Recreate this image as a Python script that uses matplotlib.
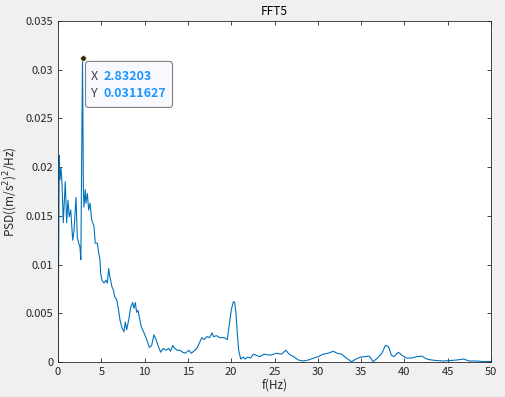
import numpy as np
import matplotlib
matplotlib.use("Agg")
import matplotlib.pyplot as plt
from matplotlib.patches import FancyBboxPatch
from matplotlib.transforms import IdentityTransform

plt.rcParams['font.family'] = ['Noto Sans CJK JP', 'DejaVu Sans']

# frequency (Hz) and PSD values
freq = [0.0, 0.15, 0.23, 0.35, 0.46, 0.61, 0.84, 1.0, 1.15, 1.3, 1.47, 1.7, 1.85,
        2.08, 2.23, 2.39, 2.54, 2.64, 2.83203, 2.93, 3.0, 3.15, 3.23, 3.39, 3.54,
        3.7, 3.89, 4.16, 4.3, 4.54, 4.7, 4.85, 4.93, 5.08, 5.31, 5.54, 5.7, 5.85,
        6.0, 6.24, 6.39, 6.55, 6.78, 7.0, 7.16, 7.39, 7.62, 7.77, 7.93, 8.16, 8.39,
        8.62, 8.78, 8.93, 9.08, 9.24, 9.39, 9.62, 9.93, 10.24, 10.55, 10.82, 11.08,
        11.32, 11.63, 11.86, 12.16, 12.47, 12.78, 13.0, 13.25, 13.47, 13.78, 14.09,
        14.4, 14.7, 15.1, 15.4, 15.8, 16.1, 16.4, 16.6, 16.85, 17.2, 17.5, 17.8,
        17.95, 18.3, 18.7, 19.17, 19.55, 19.8, 20.0, 20.25, 20.4, 20.55, 20.7,
        20.86, 21.1, 21.4, 21.6, 21.9, 22.25, 22.55, 23.3, 23.8, 24.5, 25.25,
        25.8, 26.3, 26.7, 27.2, 27.75, 28.3, 28.9, 29.5, 30.05, 30.6, 31.2, 31.8,
        32.2, 32.75, 33.3, 33.9, 34.4, 34.95, 35.45, 35.95, 36.4, 37.0, 37.4, 37.8,
        38.15, 38.5, 38.8, 39.3, 39.7, 40.25, 40.8, 41.4, 42.0, 42.6, 43.15, 43.7,
        44.5, 45.25, 46.0, 46.8, 47.5, 48.3, 49.0, 50.0]
psd = [0.0, 0.0212, 0.0187, 0.0199, 0.0184, 0.0143, 0.0185, 0.0143, 0.0166, 0.0149,
       0.0156, 0.0125, 0.0135, 0.0169, 0.0128, 0.0122, 0.0118, 0.0105, 0.0311627,
       0.018, 0.0159, 0.0177, 0.0163, 0.0173, 0.0156, 0.0163, 0.0146, 0.0139,
       0.0122, 0.0122, 0.0112, 0.0105, 0.0091, 0.0084, 0.0081, 0.0084, 0.0081,
       0.0096, 0.0087, 0.0077, 0.0074, 0.0067, 0.0064, 0.0053, 0.0043, 0.0035,
       0.0031, 0.0041, 0.0033, 0.0043, 0.0056, 0.0061, 0.0055, 0.0061, 0.0051,
       0.0053, 0.0046, 0.0036, 0.003, 0.0023, 0.0015, 0.0017, 0.0028, 0.0023,
       0.0015, 0.001, 0.0014, 0.0012, 0.0014, 0.0011, 0.0017, 0.0014, 0.0012,
       0.0012, 0.001, 0.0009, 0.0012, 0.0009, 0.0012, 0.0015, 0.0021, 0.0025,
       0.0023, 0.0026, 0.0025, 0.003, 0.0026, 0.0027, 0.0025, 0.0025, 0.0023,
       0.004, 0.0053, 0.0062, 0.0061, 0.005, 0.003, 0.0012, 0.0003, 0.0005,
       0.0003, 0.0005, 0.0004, 0.0008, 0.00055, 0.0008, 0.0007, 0.0009, 0.0008,
       0.0012, 0.0008, 0.00055, 0.0002, 0.0001, 0.0002, 0.0004, 0.00055, 0.0008,
       0.0009, 0.0011, 0.0009, 0.0008, 0.0004, 0.00003, 0.0003, 0.0005, 0.00055,
       0.0006, 0.00003, 0.0005, 0.0009, 0.0017, 0.0016, 0.0007, 0.00055, 0.001,
       0.0007, 0.0004, 0.0004, 0.00055, 0.0006, 0.0003, 0.0002, 0.00015, 0.0001,
       0.00015, 0.0002, 0.0003, 0.0001, 0.0001, 0.00005, 0.00005]

tip_x = 2.83203
tip_y = 0.0311627

fig = plt.figure(figsize=(5.06, 3.97), dpi=100, facecolor='#f0f0f0')
ax = fig.add_axes([0.1146, 0.0882, 0.8558, 0.8588])
ax.plot(freq, psd, color='#0072bd', linewidth=0.8)

ax.set_xlim(0, 50)
ax.set_ylim(0, 0.035)
ax.set_xticks(np.arange(0, 51, 5))
ax.set_yticks(np.arange(0, 0.0351, 0.005))
ax.set_yticklabels(['0', '0.005', '0.01', '0.015', '0.02', '0.025', '0.03', '0.035'])
ax.tick_params(direction='in', top=True, right=True, length=3, width=0.6,
               labelsize=8, colors='#262626')
for s in ax.spines.values():
    s.set_linewidth(0.6)
    s.set_color('#262626')
ax.set_title('FFT5', fontsize=8.5, color='#000000', pad=4)
ax.set_xlabel('f(Hz)', fontsize=8.5, color='#262626', labelpad=1)
ax.set_ylabel('PSD((m/s$^2$)$^2$/Hz)', fontsize=8.5, color='#262626', labelpad=4)

# data tip
ax.plot([tip_x], [tip_y], 'o', color='#202020', markeredgecolor='#f0e68c',
        markersize=4, markeredgewidth=0.6, zorder=5)
px, py = ax.transData.transform((tip_x, tip_y))
box = FancyBboxPatch((px + 3, py - 49), 87, 46,
                     boxstyle='round,pad=0,rounding_size=3',
                     transform=IdentityTransform(), facecolor='#f8f8ff',
                     edgecolor='#808080', linewidth=0.8, zorder=6)
fig.patches.append(box)
for i, (lab, val) in enumerate([('X', '2.83203'), ('Y', '0.0311627')]):
    yy = py - 18 - 17 * i
    fig.text(px + 8, yy, lab, transform=IdentityTransform(), fontsize=9,
             color='#404040', va='center', zorder=7)
    fig.text(px + 21, yy, val, transform=IdentityTransform(), fontsize=9,
             color='#1e96ff', fontweight='bold', va='center', zorder=7)

fig.savefig('out.png', dpi=100, facecolor=fig.get_facecolor())
